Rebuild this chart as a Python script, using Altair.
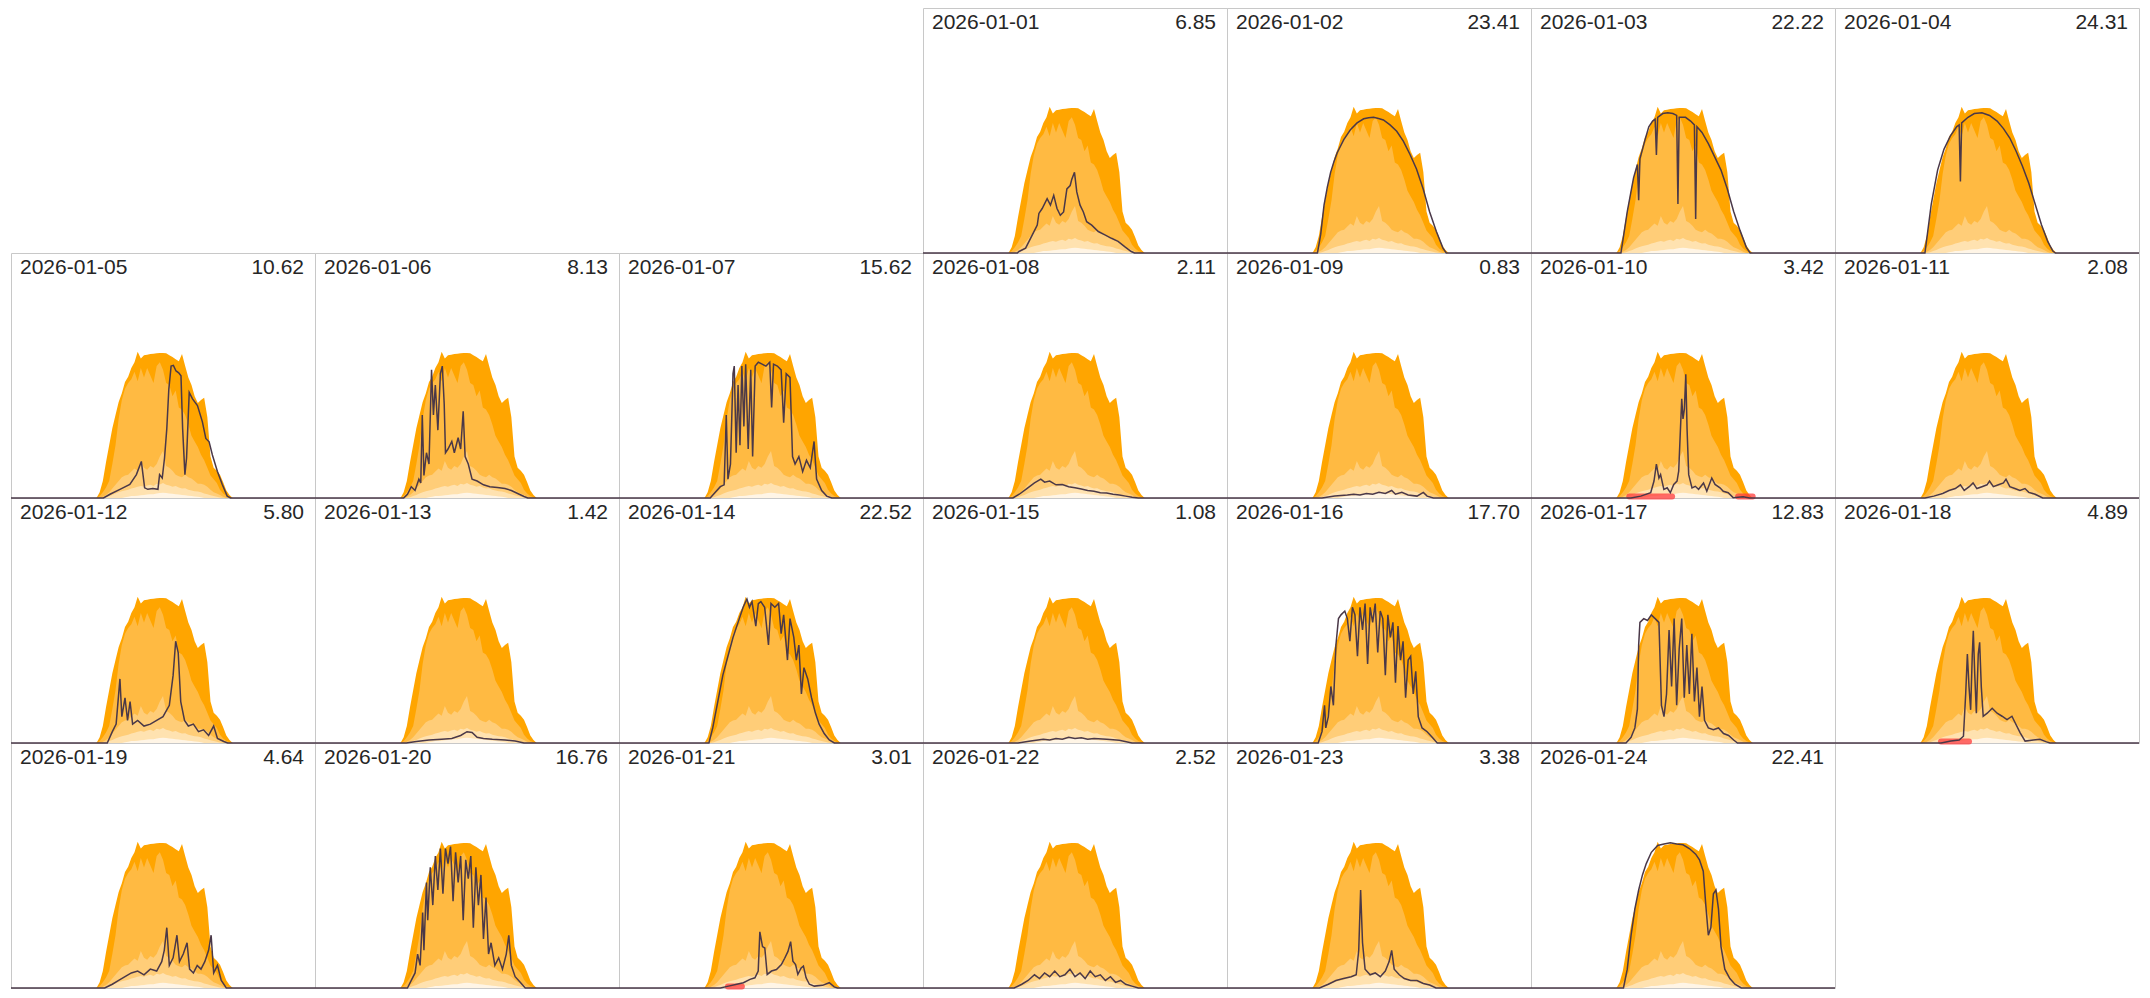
import altair as alt
import pandas as pd

DATES = ["2026-01-%02d" % d for d in range(1, 25)]
TOTALS = ["6.85", "23.41", "22.22", "24.31", "10.62", "8.13", "15.62", "2.11",
          "0.83", "3.42", "2.08", "5.80", "1.42", "22.52", "1.08", "17.70",
          "12.83", "4.89", "4.64", "16.76", "3.01", "2.52", "3.38", "22.41"]

# historical bands (kW) on a quarter-hour grid, shared by every day
BAND_T = [6.75, 7.0, 7.25, 7.5, 7.75, 8.0, 8.25, 8.5, 8.75, 9.0, 9.25, 9.5, 9.75,
          10.0, 10.25, 10.5, 10.75, 11.0, 11.25, 11.5, 11.75, 12.0, 12.25, 12.5,
          12.75, 13.0, 13.25, 13.5, 13.75, 14.0, 14.25, 14.5, 14.75, 15.0, 15.25,
          15.5, 15.75, 16.0, 16.25, 16.5, 16.75, 17.0, 17.25, 17.5, 17.75]
BAND_MAX = [0, 0.15, 0.45, 0.95, 1.40, 1.85, 2.20, 2.55, 2.78, 3.08, 3.22, 3.45, 3.60,
            3.88, 3.70, 3.79, 3.80, 3.82, 3.83, 3.84, 3.85, 3.85, 3.84, 3.79,
            3.74, 3.68, 3.63, 3.82, 3.50, 3.20, 3.00, 2.70, 2.52, 2.60, 2.66,
            2.15, 1.10, 0.80, 0.72, 0.62, 0.42, 0.20, 0.08, 0, 0]
BAND_P90 = [0, 0.05, 0.15, 0.28, 0.45, 0.90, 1.40, 2.10, 2.60, 2.90, 3.05, 3.15, 3.35,
            3.10, 3.45, 3.20, 3.45, 3.25, 3.05, 3.50, 3.60, 3.40, 3.05, 3.00,
            2.70, 2.85, 2.40, 2.35, 2.20, 1.95, 1.65, 1.50, 1.35, 1.15, 1.00,
            0.80, 0.60, 0.50, 0.40, 0.22, 0.12, 0.05, 0.02, 0, 0]
BAND_P50 = [0, 0, 0.03, 0.08, 0.15, 0.25, 0.35, 0.45, 0.55, 0.60, 0.62, 0.70, 0.78,
            0.72, 0.98, 0.80, 0.75, 0.85, 0.80, 0.90, 1.10, 1.25, 0.85, 0.80,
            0.72, 0.62, 0.58, 0.55, 0.62, 0.55, 0.52, 0.45, 0.38, 0.38, 0.35,
            0.30, 0.22, 0.15, 0.12, 0.08, 0.03, 0, 0, 0, 0]
BAND_P25 = [0, 0, 0, 0.02, 0.05, 0.08, 0.12, 0.15, 0.18, 0.20, 0.22, 0.25, 0.27,
            0.30, 0.32, 0.30, 0.33, 0.35, 0.32, 0.38, 0.36, 0.40, 0.35, 0.33,
            0.30, 0.32, 0.28, 0.25, 0.26, 0.22, 0.20, 0.18, 0.17, 0.15, 0.12,
            0.10, 0.07, 0.05, 0.03, 0.01, 0, 0, 0, 0, 0]
BAND_P10 = [0, 0, 0, 0, 0, 0, 0, 0, 0, 0.02, 0.03, 0.05, 0.05,
            0.06, 0.07, 0.08, 0.09, 0.10, 0.10, 0.12, 0.13, 0.14, 0.13, 0.12,
            0.11, 0.10, 0.09, 0.08, 0.07, 0.06, 0.05, 0.04, 0.03, 0.02, 0,
            0, 0, 0, 0, 0, 0, 0, 0, 0, 0]

# actual production per day: (hour, kW)
D0101 = [(7.45, 0), (7.58, 0.04), (8.10, 0.13), (8.63, 0.48), (9.02, 0.74), (9.15, 1.05), (9.41, 1.18), (9.80, 1.44), (10.06, 1.27), (10.32, 1.53), (10.58, 1.18), (10.84, 1.0), (11.10, 1.09), (11.36, 1.70), (11.62, 1.79), (11.75, 1.96), (11.96, 2.14), (12.14, 1.62), (12.40, 1.27), (12.66, 1.09), (12.92, 0.83), (13.32, 0.74), (13.84, 0.57), (14.36, 0.48), (14.88, 0.39), (15.40, 0.31), (15.92, 0.17), (16.44, 0.04), (16.70, 0)]
D0102 = [(7.14, 0), (7.40, 0.5), (7.66, 1.27), (7.92, 1.75), (8.18, 2.14), (8.44, 2.42), (8.70, 2.66), (9.22, 3.01), (9.74, 3.27), (10.27, 3.45), (10.79, 3.56), (11.18, 3.59), (11.57, 3.60), (11.96, 3.57), (12.35, 3.53), (12.87, 3.40), (13.40, 3.23), (13.92, 2.97), (14.44, 2.62), (14.96, 2.23), (15.49, 1.70), (16.00, 1.09), (16.53, 0.57), (17.05, 0.13), (17.31, 0)]
D0103 = [(7.1, 0), (7.6, 1.1), (8.1, 2.0), (8.4, 2.35), (8.5, 1.4), (8.6, 2.5), (9.0, 3.0), (9.3, 3.35), (9.6, 3.5), (9.8, 3.55), (9.9, 2.6), (10.0, 3.6), (10.4, 3.7), (10.8, 3.72), (11.2, 3.7), (11.5, 3.65), (11.6, 1.3), (11.7, 3.6), (12.2, 3.6), (12.6, 3.5), (12.9, 3.4), (13.0, 0.9), (13.1, 3.35), (13.5, 3.2), (14.0, 2.9), (14.5, 2.55), (15.0, 2.2), (15.5, 1.7), (16.0, 1.1), (16.5, 0.6), (17.0, 0.15), (17.3, 0)]
D0104 = [(7.1, 0), (7.6, 1.3), (8.1, 2.2), (8.6, 2.75), (9.1, 3.1), (9.6, 3.35), (9.8, 3.4), (9.9, 1.9), (10.0, 3.45), (10.5, 3.6), (11.0, 3.7), (11.6, 3.72), (12.2, 3.65), (12.8, 3.5), (13.3, 3.3), (13.8, 3.05), (14.3, 2.7), (14.8, 2.3), (15.3, 1.85), (15.8, 1.3), (16.3, 0.75), (16.8, 0.3), (17.2, 0.05), (17.4, 0)]
D0105 = [(7.3, 0), (7.82, 0.1), (8.6, 0.23), (9.38, 0.36), (9.9, 0.62), (10.29, 0.97), (10.42, 0.62), (10.55, 0.27), (10.8, 0.23), (11.2, 0.25), (11.6, 0.23), (11.73, 0.62), (11.94, 0.53), (12.12, 1.06), (12.3, 1.84), (12.46, 2.89), (12.64, 3.5), (12.82, 3.52), (13.03, 3.37), (13.24, 3.32), (13.42, 3.24), (13.55, 1.84), (13.73, 0.62), (13.86, 1.06), (14.07, 2.8), (14.33, 2.63), (14.72, 2.45), (15.11, 2.02), (15.38, 1.58), (15.64, 1.49), (15.9, 1.14), (16.29, 0.71), (16.68, 0.36), (17.07, 0.05), (17.33, 0)]
D0106 = [(7.0, 0), (7.3, 0.1), (7.6, 0.3), (7.9, 0.2), (8.2, 0.5), (8.35, 0.4), (8.47, 2.2), (8.6, 0.6), (8.8, 1.2), (9.0, 0.9), (9.2, 3.4), (9.35, 2.2), (9.5, 3.0), (9.7, 1.8), (9.9, 3.3), (10.05, 3.5), (10.2, 2.5), (10.3, 1.2), (10.5, 1.3), (10.8, 1.5), (11.0, 1.2), (11.3, 1.6), (11.5, 1.3), (11.7, 2.3), (11.85, 1.1), (12.1, 0.9), (12.4, 0.5), (12.8, 0.45), (13.3, 0.35), (13.8, 0.3), (14.4, 0.28), (15.0, 0.25), (15.5, 0.2), (16.0, 0.12), (16.5, 0.04), (16.8, 0)]
D0107 = [(7.2, 0), (7.6, 0.15), (8.0, 0.3), (8.3, 0.35), (8.47, 2.2), (8.6, 0.5), (8.8, 0.9), (9.0, 3.3), (9.1, 3.5), (9.25, 1.2), (9.4, 3.0), (9.55, 1.4), (9.7, 3.5), (9.86, 1.9), (10.0, 3.55), (10.2, 1.3), (10.4, 3.4), (10.55, 1.1), (10.75, 3.5), (11.0, 3.6), (11.3, 3.55), (11.6, 3.5), (11.9, 3.6), (12.05, 2.4), (12.2, 3.55), (12.5, 3.5), (12.8, 3.4), (13.0, 2.0), (13.2, 3.3), (13.5, 3.2), (13.7, 1.1), (13.9, 0.9), (14.2, 1.1), (14.5, 0.7), (14.8, 1.0), (15.1, 0.8), (15.4, 1.5), (15.6, 0.5), (16.0, 0.2), (16.4, 0.05), (16.8, 0)]
D0108 = [(7.1, 0), (7.6, 0.1), (8.2, 0.25), (8.8, 0.4), (9.3, 0.5), (9.6, 0.42), (10.0, 0.45), (10.5, 0.35), (11.0, 0.36), (11.5, 0.3), (12.0, 0.27), (12.5, 0.24), (13.0, 0.2), (13.5, 0.18), (14.0, 0.14), (14.5, 0.13), (15.0, 0.1), (15.5, 0.08), (16.0, 0.05), (16.5, 0.02), (17.0, 0)]
D0109 = [(7.5, 0), (8.5, 0.05), (9.5, 0.08), (10.0, 0.1), (10.5, 0.08), (11.0, 0.12), (11.5, 0.1), (12.0, 0.15), (12.5, 0.12), (13.0, 0.2), (13.3, 0.1), (13.8, 0.15), (14.3, 0.08), (15.0, 0.05), (15.5, 0.15), (15.8, 0.05), (16.3, 0)]
D0110 = [(7.89, 0), (8.67, 0.05), (9.45, 0.14), (9.71, 0.45), (9.9, 0.9), (10.1, 0.53), (10.23, 0.62), (10.49, 0.23), (10.75, 0.27), (11.0, 0.14), (11.27, 0.36), (11.53, 0.45), (11.66, 0.71), (11.8, 1.84), (11.9, 2.63), (12.0, 2.1), (12.11, 2.36), (12.22, 3.28), (12.32, 1.84), (12.45, 0.62), (12.71, 0.27), (12.97, 0.31), (13.23, 0.23), (13.62, 0.4), (13.88, 0.18), (14.27, 0.53), (14.53, 0.36), (14.92, 0.27), (15.18, 0.18), (15.57, 0.14), (15.96, 0.01), (16.74, 0.03), (17.27, 0)]
D0111 = [(7.1, 0), (7.8, 0.05), (8.5, 0.12), (9.0, 0.2), (9.5, 0.25), (9.9, 0.35), (10.2, 0.2), (10.6, 0.3), (10.9, 0.4), (11.2, 0.25), (11.6, 0.3), (12.0, 0.35), (12.2, 0.45), (12.5, 0.3), (12.9, 0.35), (13.3, 0.4), (13.5, 0.5), (13.8, 0.3), (14.2, 0.25), (14.6, 0.2), (15.0, 0.25), (15.3, 0.15), (15.8, 0.1), (16.4, 0)]
D0112 = [(7.6, 0), (8.0, 0.3), (8.3, 0.5), (8.6, 1.7), (8.75, 0.7), (9.0, 1.2), (9.2, 0.6), (9.4, 1.1), (9.6, 0.5), (10.0, 0.6), (10.5, 0.45), (11.0, 0.5), (11.5, 0.6), (12.0, 0.7), (12.5, 1.0), (12.8, 1.8), (13.0, 2.7), (13.2, 2.4), (13.4, 1.1), (13.7, 0.6), (14.0, 0.45), (14.4, 0.5), (14.8, 0.3), (15.2, 0.35), (15.6, 0.2), (16.0, 0.45), (16.3, 0.12), (16.8, 0.04), (17.1, 0)]
D0113 = [(7.2, 0), (8.0, 0.04), (9.0, 0.08), (10.0, 0.1), (10.8, 0.12), (11.5, 0.2), (12.0, 0.3), (12.4, 0.28), (12.8, 0.15), (13.3, 0.12), (14.0, 0.1), (15.0, 0.08), (15.8, 0.05), (16.5, 0)]
D0114 = [(7.1, 0), (7.4, 0.4), (7.8, 1.1), (8.2, 1.8), (8.6, 2.3), (9.0, 2.8), (9.4, 3.2), (9.8, 3.6), (10.1, 3.82), (10.3, 3.6), (10.5, 3.75), (10.8, 3.1), (11.0, 3.7), (11.2, 3.75), (11.5, 3.6), (11.8, 2.6), (12.0, 3.7), (12.3, 3.6), (12.6, 3.7), (12.8, 2.9), (13.0, 3.4), (13.3, 2.2), (13.5, 3.3), (13.8, 2.8), (14.0, 2.2), (14.2, 2.6), (14.4, 1.3), (14.6, 2.0), (14.9, 1.7), (15.2, 1.2), (15.5, 0.8), (15.8, 0.5), (16.2, 0.25), (16.6, 0.08), (17.0, 0)]
D0115 = [(7.5, 0), (8.5, 0.05), (9.5, 0.1), (10.0, 0.08), (10.5, 0.12), (11.0, 0.1), (11.5, 0.15), (12.0, 0.12), (12.5, 0.14), (13.0, 0.1), (13.5, 0.12), (14.5, 0.1), (15.5, 0.07), (16.5, 0)]
D0116 = [(7.2, 0), (7.5, 0.3), (7.7, 1.0), (7.8, 0.4), (8.0, 0.7), (8.2, 1.5), (8.4, 1.0), (8.6, 2.6), (8.8, 3.3), (9.0, 3.4), (9.3, 3.5), (9.5, 3.3), (9.7, 2.7), (9.9, 3.6), (10.1, 3.4), (10.3, 2.3), (10.5, 3.6), (10.7, 3.0), (10.9, 3.7), (11.1, 2.1), (11.3, 3.6), (11.5, 3.2), (11.7, 3.7), (11.9, 2.4), (12.1, 3.5), (12.3, 3.3), (12.5, 1.8), (12.7, 3.4), (12.9, 2.8), (13.1, 3.2), (13.3, 1.6), (13.5, 3.1), (13.7, 2.2), (13.9, 2.7), (14.1, 1.2), (14.3, 2.2), (14.5, 2.3), (14.7, 1.3), (14.9, 1.9), (15.1, 0.7), (15.4, 0.4), (15.8, 0.3), (16.2, 0.15), (16.6, 0)]
D0117 = [(7.5, 0), (7.9, 0.15), (8.2, 0.4), (8.4, 0.9), (8.5, 2.6), (8.6, 3.2), (8.9, 3.3), (9.2, 3.25), (9.5, 3.4), (9.8, 3.3), (10.1, 3.2), (10.3, 1.0), (10.5, 0.7), (10.7, 1.3), (10.9, 3.0), (11.1, 1.5), (11.3, 3.3), (11.5, 1.0), (11.7, 2.5), (11.9, 3.3), (12.1, 1.2), (12.3, 2.6), (12.5, 1.3), (12.7, 2.9), (12.9, 1.1), (13.1, 2.0), (13.3, 0.7), (13.5, 1.5), (13.7, 0.6), (14.0, 0.4), (14.4, 0.35), (14.8, 0.4), (15.2, 0.25), (15.6, 0.2), (16.0, 0.08), (16.3, 0)]
D0118 = [(8.37, 0), (9.15, 0.05), (9.8, 0.08), (10.14, 0.18), (10.32, 1.32), (10.45, 2.36), (10.58, 1.49), (10.71, 0.88), (10.84, 2.36), (10.92, 2.98), (11.03, 1.84), (11.16, 0.79), (11.31, 2.36), (11.42, 2.67), (11.55, 1.49), (11.7, 0.71), (12.02, 0.79), (12.41, 0.92), (12.8, 0.79), (13.19, 0.71), (13.58, 0.62), (13.97, 0.71), (14.23, 0.53), (14.62, 0.27), (15.01, 0.05), (15.66, 0.08), (16.18, 0.1), (16.7, 0.03), (16.97, 0)]
D0119 = [(7.4, 0), (8.0, 0.1), (8.5, 0.2), (9.0, 0.3), (9.5, 0.4), (10.0, 0.45), (10.5, 0.35), (11.0, 0.5), (11.5, 0.45), (11.9, 0.7), (12.1, 1.0), (12.3, 1.6), (12.5, 0.6), (12.8, 0.8), (13.1, 1.4), (13.3, 0.7), (13.6, 0.9), (13.9, 1.2), (14.1, 0.5), (14.4, 0.4), (14.7, 0.6), (15.0, 0.5), (15.3, 0.7), (15.6, 1.0), (15.8, 1.4), (16.0, 0.4), (16.3, 0.6), (16.6, 0.2), (17.0, 0)]
D0120 = [(7.3, 0), (7.6, 0.2), (7.9, 0.4), (8.1, 0.9), (8.3, 0.6), (8.5, 2.0), (8.6, 1.0), (8.8, 2.8), (8.9, 1.8), (9.1, 3.2), (9.3, 2.2), (9.5, 3.5), (9.7, 2.6), (9.9, 3.7), (10.1, 2.5), (10.3, 3.7), (10.5, 3.3), (10.7, 3.75), (10.9, 2.3), (11.1, 3.6), (11.3, 2.8), (11.5, 3.5), (11.7, 1.8), (11.9, 3.4), (12.1, 2.9), (12.3, 3.5), (12.5, 1.6), (12.7, 3.2), (12.9, 2.2), (13.1, 3.0), (13.3, 1.3), (13.5, 2.4), (13.7, 0.9), (13.9, 1.2), (14.2, 0.6), (14.5, 0.8), (14.8, 0.5), (15.1, 0.9), (15.3, 1.4), (15.5, 0.6), (15.8, 0.3), (16.2, 0.15), (16.6, 0)]
D0121 = [(8.0, 0), (8.65, 0.05), (9.3, 0.1), (9.82, 0.14), (10.34, 0.23), (10.73, 0.27), (10.99, 0.45), (11.12, 1.49), (11.33, 1.1), (11.51, 1.06), (11.7, 0.36), (12.04, 0.45), (12.43, 0.49), (12.82, 0.62), (13.08, 0.79), (13.34, 0.97), (13.55, 1.23), (13.73, 0.71), (13.94, 0.62), (14.12, 0.36), (14.38, 0.53), (14.56, 0.58), (14.77, 0.27), (15.03, 0.1), (15.42, 0.05), (16.07, 0.07), (16.6, 0.14), (16.99, 0.03), (17.25, 0)]
D0122 = [(7.2, 0), (7.8, 0.1), (8.3, 0.2), (8.8, 0.35), (9.2, 0.25), (9.6, 0.4), (10.0, 0.3), (10.4, 0.45), (10.8, 0.3), (11.2, 0.35), (11.6, 0.5), (12.0, 0.3), (12.4, 0.4), (12.8, 0.25), (13.2, 0.45), (13.6, 0.3), (14.0, 0.35), (14.4, 0.2), (14.8, 0.3), (15.2, 0.15), (15.6, 0.2), (16.0, 0.1), (16.5, 0.05), (17.0, 0)]
D0123 = [(7.3, 0), (8.0, 0.1), (8.6, 0.2), (9.2, 0.25), (9.8, 0.3), (10.2, 0.35), (10.4, 1.0), (10.55, 2.6), (10.7, 1.2), (10.9, 0.5), (11.3, 0.35), (11.7, 0.4), (12.1, 0.3), (12.5, 0.45), (12.8, 0.7), (13.0, 1.0), (13.2, 0.5), (13.6, 0.35), (14.0, 0.25), (14.5, 0.2), (15.0, 0.2), (15.5, 0.12), (16.0, 0.08), (16.5, 0)]
D0124 = [(7.3, 0), (7.6, 0.5), (7.9, 1.4), (8.2, 2.1), (8.5, 2.6), (8.8, 3.0), (9.1, 3.3), (9.5, 3.6), (10.0, 3.78), (10.5, 3.82), (11.0, 3.85), (11.5, 3.82), (12.0, 3.8), (12.5, 3.7), (13.0, 3.55), (13.3, 3.4), (13.6, 3.1), (13.8, 2.2), (14.0, 1.4), (14.2, 1.6), (14.4, 2.5), (14.6, 2.6), (14.8, 2.1), (15.0, 1.1), (15.3, 0.5), (15.7, 0.25), (16.1, 0.1), (16.6, 0)]
SERIES = [D0101, D0102, D0103, D0104, D0105, D0106, D0107, D0108, D0109, D0110,
          D0111, D0112, D0113, D0114, D0115, D0116, D0117, D0118, D0119, D0120,
          D0121, D0122, D0123, D0124]

# red markers at the baseline: (date, from hour, to hour)
RED = [("2026-01-10", 7.76, 11.14), ("2026-01-10", 16.35, 17.5),
       ("2026-01-18", 8.37, 10.58), ("2026-01-21", 8.6, 9.7)]

DAY_H = 24       # hours per panel
YMAX = 6.5       # kW per panel
NWEEKS = 4
FIRST_WD = pd.Timestamp(DATES[0]).weekday()
pos = {d: ((i + FIRST_WD) // 7, pd.Timestamp(d).weekday()) for i, d in enumerate(DATES)}

rows = []
for i, d in enumerate(DATES):
    wk, wd = pos[d]
    for j, t in enumerate(BAND_T):
        rows.append(dict(kind="band", date=d, wk=wk, wd=wd, t=t,
                         b1=BAND_MAX[j], b2=BAND_P90[j], b3=BAND_P50[j],
                         b4=BAND_P25[j], b5=BAND_P10[j]))
    for t, v in [(0, 0)] + SERIES[i] + [(DAY_H, 0)]:
        rows.append(dict(kind="act", date=d, wk=wk, wd=wd, t=t, v=v))
    rows.append(dict(kind="lab", date=d, wk=wk, wd=wd, total=TOTALS[i]))
for d, t1, t2 in RED:
    wk, wd = pos[d]
    rows.append(dict(kind="red", date=d, wk=wk, wd=wd, t=t1, t2=t2))
df = pd.DataFrame(rows)

W, H = 2128, 980
FONT = "Liberation Sans"
XS = alt.Scale(domain=[0, 7 * DAY_H], nice=False, zero=False)
YS = alt.Scale(domain=[0, NWEEKS * YMAX], nice=False, zero=False)

base = alt.Chart(df).transform_calculate(
    x0=f"datum.wd * {DAY_H}",
    x1=f"datum.wd * {DAY_H} + {DAY_H}",
    y0=f"({NWEEKS - 1} - datum.wk) * {YMAX}",
    y1=f"({NWEEKS} - datum.wk) * {YMAX}",
    xx="datum.x0 + datum.t",
    xe="datum.x0 + datum.t2",
)


def band(col, color):
    return (base.transform_filter("datum.kind == 'band'")
            .transform_calculate(yy=f"datum.y0 + datum.{col}")
            .mark_area(color=color, opacity=1)
            .encode(x=alt.X("xx:Q", scale=XS, axis=None),
                    y=alt.Y("yy:Q", scale=YS, axis=None, stack=None),
                    y2="y0:Q",
                    detail="date:N"))


labs = base.transform_filter("datum.kind == 'lab'")

layers = [
    labs.mark_rect(fillOpacity=0, stroke="#c8c8c8", strokeWidth=1,
                   xOffset=0.5, x2Offset=0.5, yOffset=0.5, y2Offset=0.5)
    .encode(x=alt.X("x0:Q", scale=XS, axis=None), x2="x1:Q",
            y=alt.Y("y0:Q", scale=YS, axis=None), y2="y1:Q"),
    band("b1", "#FFA500"),
    band("b2", "#FFBA42"),
    band("b3", "#FFCD78"),
    band("b4", "#FFE2B0"),
    band("b5", "#FFF5E6"),
    base.transform_filter("datum.kind == 'red'")
    .mark_rule(color="#FF3B3B", opacity=0.75, strokeWidth=6, strokeCap="round", yOffset=-1.5)
    .encode(x=alt.X("xx:Q", scale=XS, axis=None), x2="xe:Q",
            y=alt.Y("y0:Q", scale=YS, axis=None)),
    base.transform_filter("datum.kind == 'act'")
    .transform_calculate(yy="datum.y0 + datum.v")
    .mark_line(color="#4a3848", strokeWidth=1.5)
    .encode(x=alt.X("xx:Q", scale=XS, axis=None),
            y=alt.Y("yy:Q", scale=YS, axis=None),
            detail="date:N"),
    labs.mark_text(align="left", baseline="alphabetic", font=FONT, fontSize=21,
                   color="#262626", dx=9, dy=21)
    .encode(x=alt.X("x0:Q", scale=XS, axis=None),
            y=alt.Y("y1:Q", scale=YS, axis=None), text="date:N"),
    labs.mark_text(align="right", baseline="alphabetic", font=FONT, fontSize=21,
                   color="#262626", dx=-11, dy=21)
    .encode(x=alt.X("x1:Q", scale=XS, axis=None),
            y=alt.Y("y1:Q", scale=YS, axis=None), text="total:N"),
]

chart = (alt.layer(*layers)
         .properties(width=W, height=H, padding=0)
         .configure_view(strokeWidth=0))

chart.save("out.html", embed_options={"renderer": "svg", "actions": False})
